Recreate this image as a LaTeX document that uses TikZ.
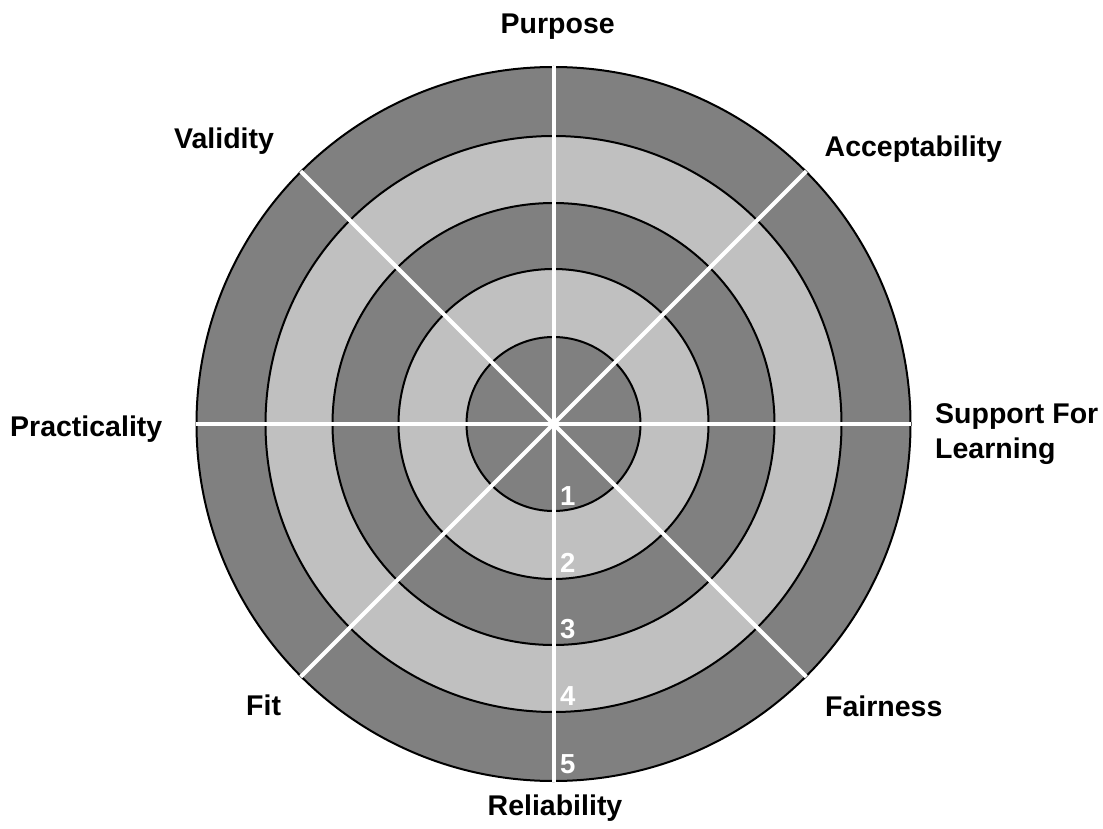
\documentclass[tikz,border=0pt]{standalone}
\usepackage{fontspec}
\setmainfont{Liberation Sans}
\definecolor{ringdark}{RGB}{128,128,128}
\definecolor{ringlight}{RGB}{192,192,192}
\begin{document}
\begin{tikzpicture}[x=1pt,y=-1pt,
  ring/.style={draw=black,line width=2pt},
  spoke/.style={draw=white,line width=4pt},
  axislabel/.style={font=\fontsize{28.5}{35}\selectfont\bfseries,inner sep=0pt,text=black,anchor=base west,align=left},
  levelnum/.style={font=\fontsize{27.5}{30}\selectfont\bfseries,text=white,inner sep=0pt,anchor=base west}]
\fill[white] (0,0) rectangle (1103,829);
\useasboundingbox (0,0) rectangle (1103,829);
\coordinate (c) at (553.5,424);

% concentric bands, outermost first
\foreach \r/\col in {357/ringdark,288/ringlight,221/ringdark,155/ringlight,87/ringdark}
  \filldraw[ring,fill=\col] (c) circle[radius=\r];

% eight spokes
\foreach \a in {0,45,...,315} {
  \coordinate (s\a) at ([shift={(\a:357.5)}]c);
  \draw[spoke] (c) -- (s\a);
}

% scale numbers along the lower spoke
\node[levelnum] (n1) at (560,505.5) {1};
\node[levelnum] (n2) at (560,572) {2};
\node[levelnum] (n3) at (560,638.5) {3};
\node[levelnum] (n4) at (560,705.5) {4};
\node[levelnum] (n5) at (560,773) {5};

% axis names
\node[axislabel] (purpose) at (500.5,33.5) {Purpose};
\node[axislabel] (accept) at (824.5,156.5) {Acceptability};
\node[axislabel] (support) at (935,458) {Support For\\Learning};
\node[axislabel] (fair) at (825,716) {Fairness};
\node[axislabel] (reliab) at (487.5,815) {Reliability};
\node[axislabel] (fit) at (246,715) {Fit};
\node[axislabel] (pract) at (10,436.5) {Practicality};
\node[axislabel] (valid) at (174,148.5) {Validity};
\end{tikzpicture}
\end{document}
